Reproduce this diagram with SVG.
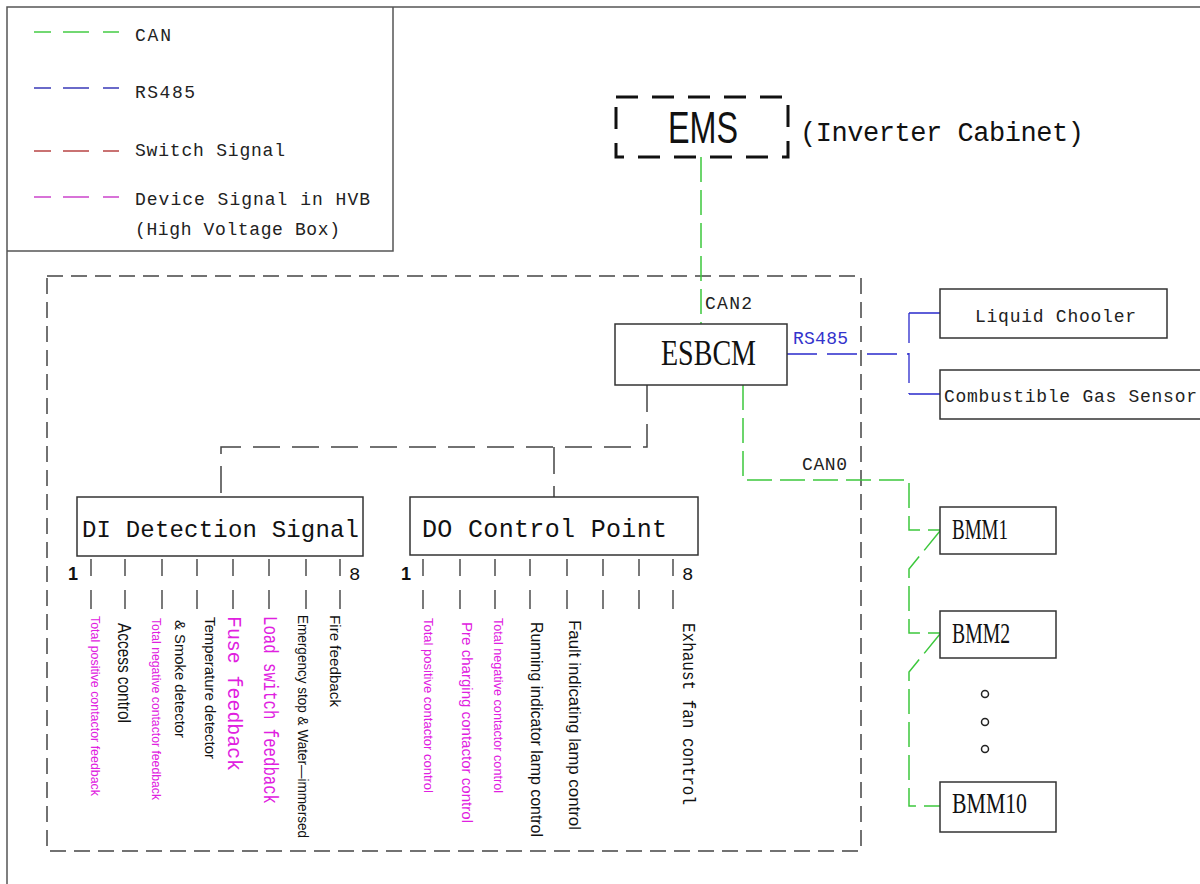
<svg xmlns="http://www.w3.org/2000/svg" width="1200" height="884" viewBox="0 0 1200 884">
<style>
.mono{font-family:"Liberation Mono","DejaVu Sans Mono",monospace}
.sans{font-family:"Liberation Sans",Arial,sans-serif}
.serif{font-family:"Liberation Serif","Times New Roman",serif}
.frame{fill:none;stroke:#555;stroke-width:1.5}
.box{fill:#fff;stroke:#333;stroke-width:1.5}
.can{fill:none;stroke:#3cc83c;stroke-width:1.5;stroke-dasharray:25 8}
.rs{fill:none;stroke:#2a2acc;stroke-width:1.3;stroke-dasharray:30 10}
.rss{fill:none;stroke:#2a2acc;stroke-width:1.3}
.blk{fill:none;stroke:#444;stroke-width:1.5;stroke-dasharray:27 12}
.tick{fill:none;stroke:#333;stroke-width:1.3}
.lg{font-size:18px;fill:#222}
.mag{fill:#e020e0}
.dk{fill:#111}
</style>
<g id="frame">
<path class="frame" d="M7,884V7H1200"/>
<path class="frame" d="M393,7V251H7"/>
<rect x="47" y="276" width="814" height="575" fill="none" stroke="#444" stroke-width="1.5" stroke-dasharray="16 8"/>
</g>
<g id="legend">
<path d="M34,32H51M63,32H89M103,32H119" stroke="#44cc44" stroke-width="1.5"/>
<text class="mono lg" x="135" y="41" textLength="36" lengthAdjust="spacing">CAN</text>
<path d="M34,88H51M63,88H89M103,88H119" stroke="#3a3ab8" stroke-width="1.5"/>
<text class="mono lg" x="135" y="98" textLength="60" lengthAdjust="spacing">RS485</text>
<path d="M34,151H51M63,151H89M103,151H119" stroke="#b84444" stroke-width="1.5"/>
<text class="mono lg" x="135" y="156" textLength="150" lengthAdjust="spacing">Switch Signal</text>
<path d="M34,197H51M63,197H89M103,197H119" stroke="#cc44cc" stroke-width="1.5"/>
<text class="mono lg" x="135" y="205" textLength="235" lengthAdjust="spacing">Device Signal in HVB</text>
<text class="mono lg" x="135" y="235" textLength="205" lengthAdjust="spacing">(High Voltage Box)</text>
</g>
<g id="connectors">
<path class="can" d="M701,157V324"/>
<path class="can" d="M743,385V480H909V530H940"/>
<path class="can" d="M940,531L909,569V633H940"/>
<path class="can" d="M940,634L909,672V806H940"/>
<path class="rs" d="M787,354H909"/>
<path class="rs" d="M909,313V394" stroke-dasharray="20 6"/>
<path class="rss" d="M909,313H940M909,394H940"/>
<path class="blk" d="M647,385V447H221V497"/>
<path class="blk" d="M554,447V497"/>
<text class="mono lg" x="705" y="309" textLength="47" lengthAdjust="spacing">CAN2</text>
<text class="mono" x="793" y="344" font-size="18" fill="#3333cc" textLength="55" lengthAdjust="spacing">RS485</text>
<text class="mono lg" x="802" y="470" textLength="45" lengthAdjust="spacing">CAN0</text>
</g>
<g id="ems">
<rect x="616" y="97" width="172" height="60" fill="none" stroke="#111" stroke-width="3" stroke-dasharray="22 14"/>
<text class="sans dk" x="668" y="143" font-size="44" textLength="70" lengthAdjust="spacingAndGlyphs">EMS</text>
<text class="mono dk" x="800" y="141" font-size="27" textLength="284" lengthAdjust="spacing">(Inverter Cabinet)</text>
</g>
<g id="esbcm">
<rect class="box" x="615" y="324" width="172" height="61"/>
<text class="serif dk" x="661" y="365" font-size="36" textLength="95" lengthAdjust="spacingAndGlyphs">ESBCM</text>
</g>
<g id="liquid-chooler">
<rect class="box" x="940" y="289" width="227" height="49"/>
<text class="mono lg" x="975" y="322" textLength="161" lengthAdjust="spacing">Liquid Chooler</text>
</g>
<g id="gas-sensor">
<rect class="box" x="940" y="370" width="270" height="49"/>
<text class="mono lg" x="944" y="402" textLength="253" lengthAdjust="spacing">Combustible Gas Sensor</text>
</g>
<g id="bmm1">
<rect class="box" x="940" y="507" width="116" height="47"/>
<text class="serif dk" x="952" y="539" font-size="29" textLength="56" lengthAdjust="spacingAndGlyphs">BMM1</text>
</g>
<g id="bmm2">
<rect class="box" x="940" y="611" width="116" height="47"/>
<text class="serif dk" x="952" y="643" font-size="29" textLength="58" lengthAdjust="spacingAndGlyphs">BMM2</text>
</g>
<g id="bmm-dots" fill="#fff" stroke="#222" stroke-width="1.5">
<circle cx="985" cy="694" r="3.5"/>
<circle cx="985" cy="722" r="3.5"/>
<circle cx="985" cy="749" r="3.5"/>
</g>
<g id="bmm10">
<rect class="box" x="940" y="782" width="116" height="50"/>
<text class="serif dk" x="952" y="813" font-size="30" textLength="75" lengthAdjust="spacingAndGlyphs">BMM10</text>
</g>
<g id="di">
<rect class="box" x="77" y="497" width="286" height="59"/>
<text class="mono dk" x="82" y="537" font-size="24" textLength="277" lengthAdjust="spacing">DI Detection Signal</text>
<path class="tick" d="M91,559V576M91,590V609M125,559V576M125,590V609M162,559V576M162,590V609M197,559V576M197,590V609M233,559V576M233,590V609M269,559V576M269,590V609M306,559V576M306,590V609M340,559V576M340,590V609"/>
<text class="sans dk" x="68" y="580" font-size="18" font-weight="bold">1</text>
<text class="mono dk" x="349" y="580" font-size="19">8</text>
<text class="sans mag" transform="translate(91,616) rotate(90)" font-size="13" textLength="180" lengthAdjust="spacingAndGlyphs">Total positive contactor feedback</text>
<text class="sans dk" transform="translate(118,623) rotate(90)" font-size="18" textLength="100" lengthAdjust="spacingAndGlyphs">Access control</text>
<text class="sans mag" transform="translate(152,618) rotate(90)" font-size="13" textLength="182" lengthAdjust="spacingAndGlyphs">Total negative contactor feedback</text>
<text class="sans dk" transform="translate(175,620) rotate(90)" font-size="15" textLength="118" lengthAdjust="spacingAndGlyphs">&amp; Smoke detector</text>
<text class="sans dk" transform="translate(205,617) rotate(90)" font-size="15" textLength="142" lengthAdjust="spacingAndGlyphs">Temperature detector</text>
<text class="mono mag" transform="translate(228,616) rotate(90)" font-size="20" textLength="155" lengthAdjust="spacingAndGlyphs">Fuse feedback</text>
<text class="mono mag" transform="translate(264,616) rotate(90)" font-size="20" textLength="188" lengthAdjust="spacingAndGlyphs">Load switch feedback</text>
<text class="sans dk" transform="translate(298,615) rotate(90)" font-size="15" textLength="223" lengthAdjust="spacingAndGlyphs">Emergency stop &amp; Water—immersed</text>
<text class="sans dk" transform="translate(330,615) rotate(90)" font-size="15" textLength="92" lengthAdjust="spacingAndGlyphs">Fire feedback</text>
</g>
<g id="do">
<rect class="box" x="410" y="497" width="288" height="58"/>
<text class="mono dk" x="422" y="537" font-size="25" textLength="245" lengthAdjust="spacing">DO Control Point</text>
<path class="tick" d="M423,559V576M423,590V609M460,559V576M460,590V609M495,559V576M495,590V609M530,559V576M530,590V609M567,559V576M567,590V609M603,559V576M603,590V609M639,559V576M639,590V609M673,559V576M673,590V609"/>
<text class="sans dk" x="401" y="580" font-size="18" font-weight="bold">1</text>
<text class="mono dk" x="682" y="580" font-size="19">8</text>
<text class="sans mag" transform="translate(424,618) rotate(90)" font-size="13" textLength="175" lengthAdjust="spacingAndGlyphs">Total positive contactor control</text>
<text class="sans mag" transform="translate(462,622) rotate(90)" font-size="15" textLength="201" lengthAdjust="spacingAndGlyphs">Pre charging contactor control</text>
<text class="sans mag" transform="translate(494,618) rotate(90)" font-size="13" textLength="175" lengthAdjust="spacingAndGlyphs">Total negative contactor control</text>
<text class="sans dk" transform="translate(531,622) rotate(90)" font-size="16" textLength="215" lengthAdjust="spacingAndGlyphs">Running indicator lamp control</text>
<text class="sans dk" transform="translate(569,620) rotate(90)" font-size="16" textLength="210" lengthAdjust="spacingAndGlyphs">Fault indicating lamp control</text>
<text class="mono dk" transform="translate(683,623) rotate(90)" font-size="19" textLength="182" lengthAdjust="spacingAndGlyphs">Exhaust fan control</text>
</g>
</svg>
